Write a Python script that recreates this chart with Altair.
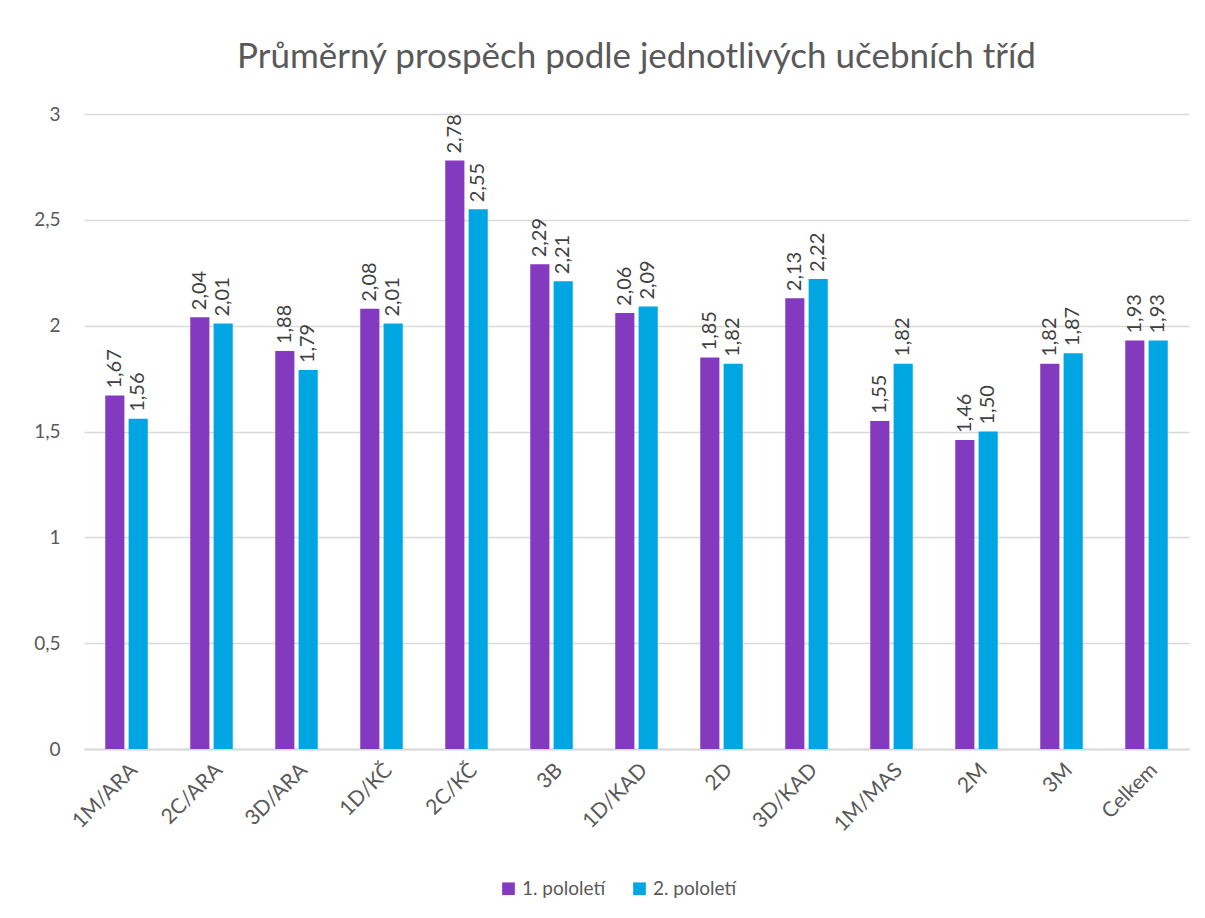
import altair as alt
import pandas as pd

categories = ["1M/ARA", "2C/ARA", "3D/ARA", "1D/KČ", "2C/KČ", "3B", "1D/KAD",
              "2D", "3D/KAD", "1M/MAS", "2M", "3M", "Celkem"]
series_names = ["1. pololetí", "2. pololetí"]
first_half = [1.67, 2.04, 1.88, 2.08, 2.78, 2.29, 2.06, 1.85, 2.13, 1.55, 1.46, 1.82, 1.93]
second_half = [1.56, 2.01, 1.79, 2.01, 2.55, 2.21, 2.09, 1.82, 2.22, 1.82, 1.50, 1.87, 1.93]
colors = ["#833ABF", "#00A6E2"]

rows = []
for c, a, b in zip(categories, first_half, second_half):
    rows.append({"trida": c, "pololeti": series_names[0], "v": a})
    rows.append({"trida": c, "pololeti": series_names[1], "v": b})
df = pd.DataFrame(rows)

FONT = "Lato"
GREY = "#595959"

x = alt.X("trida:N", sort=categories, title=None,
          scale=alt.Scale(paddingInner=0.5, paddingOuter=0.25),
          axis=alt.Axis(labelAngle=-45, labelFontSize=21, labelColor=GREY,
                        labelFont=FONT, domainColor="#d9d9d9", domainWidth=2,
                        ticks=False, labelPadding=10))
xo = alt.XOffset("pololeti:N", sort=series_names,
                 scale=alt.Scale(paddingInner=0.18))
y = alt.Y("v:Q", title=None,
          scale=alt.Scale(domain=[0, 3]),
          axis=alt.Axis(values=[0, 0.5, 1, 1.5, 2, 2.5, 3], domain=False, ticks=False,
                        labelFontSize=19, labelColor=GREY, labelFont=FONT,
                        labelPadding=24, gridColor="#d9d9d9", gridWidth=1.5,
                        labelExpr="replace(format(datum.value, ''), '.', ',')"))
color = alt.Color("pololeti:N", sort=series_names, title=None,
                  scale=alt.Scale(domain=series_names, range=colors),
                  legend=alt.Legend(orient="none", direction="horizontal",
                                    legendX=415, legendY=765,
                                    symbolType="square", symbolSize=160,
                                    labelFontSize=19, labelColor=GREY, labelFont=FONT,
                                    columnPadding=24, symbolStrokeWidth=0))

bars = alt.Chart(df).mark_bar().encode(x=x, xOffset=xo, y=y, color=color)

labels = alt.Chart(df).transform_calculate(
    lab="replace(format(datum.v, '.2f'), '.', ',')"
).mark_text(angle=270, align="left", baseline="middle", dx=7,
            fontSize=20, font=FONT, color="#404040").encode(
    x=alt.X("trida:N", sort=categories),
    xOffset=alt.XOffset("pololeti:N", sort=series_names),
    y="v:Q", text="lab:N")

chart = alt.layer(bars, labels).properties(
    width=1105, height=635,
    title=alt.TitleParams("Průměrný prospěch podle jednotlivých učebních tříd",
                          fontSize=35, font=FONT, fontWeight="normal", color=GREY,
                          offset=30, anchor="middle"),
    padding={"left": 25, "top": 32, "right": 5, "bottom": 5},
).configure_view(stroke=None)

chart.save("out.html", embed_options={"renderer": "svg", "actions": False})
